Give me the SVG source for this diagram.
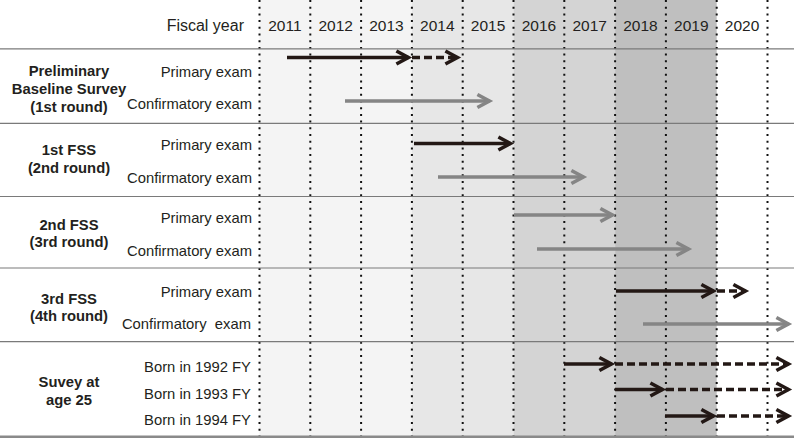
<svg xmlns="http://www.w3.org/2000/svg" width="794" height="438" viewBox="0 0 794 438">
<style>
  text { font-family: "Liberation Sans", Arial, sans-serif; fill: #231f20; }
  .hdr { font-size: 16px; }
  .yr { font-size: 15.5px; text-anchor: middle; }
  .lbl { font-size: 14.8px; text-anchor: end; }
  .grp { font-size: 14.8px; font-weight: bold; text-anchor: middle; }
  .vgrid { stroke: #111; stroke-width: 2; stroke-dasharray: 2 4.7; }
  .hline { stroke: #7a7a7a; stroke-width: 1.2; }
  .blk { stroke: #231815; stroke-width: 3.5; fill: none; marker-end: url(#headB); }
  .gry { stroke: #858585; stroke-width: 3.5; fill: none; marker-end: url(#headG); }
  .dash { stroke-dasharray: 8 4; }
</style>
<defs>
  <marker id="headB" markerUnits="userSpaceOnUse" viewBox="-16 -9 22 18" refX="0" refY="0" markerWidth="22" markerHeight="18" orient="auto" overflow="visible">
    <path d="M-12,-6.5 L0,0 L-12,6.5" fill="none" stroke="#231815" stroke-width="3.6" stroke-dasharray="none"/>
  </marker>
  <marker id="headG" markerUnits="userSpaceOnUse" viewBox="-16 -9 22 18" refX="0" refY="0" markerWidth="22" markerHeight="18" orient="auto" overflow="visible">
    <path d="M-12,-6.5 L0,0 L-12,6.5" fill="none" stroke="#858585" stroke-width="3.6" stroke-dasharray="none"/>
  </marker>
</defs>

<g id="background">
  <rect x="0" y="0" width="794" height="438" fill="#ffffff"/>
  <rect x="259.5" y="0" width="152.4" height="438" fill="#f4f4f4"/>
  <rect x="411.9" y="0" width="101.6" height="438" fill="#e7e7e7"/>
  <rect x="513.5" y="0" width="101.6" height="438" fill="#d4d4d4"/>
  <rect x="615.1" y="0" width="101.6" height="438" fill="#bfbfbf"/>
</g>

<g id="grid">
  <line class="vgrid" x1="259.5" y1="0" x2="259.5" y2="438"/>
  <line class="vgrid" x1="310.3" y1="0" x2="310.3" y2="438"/>
  <line class="vgrid" x1="361.1" y1="0" x2="361.1" y2="438"/>
  <line class="vgrid" x1="411.9" y1="0" x2="411.9" y2="438"/>
  <line class="vgrid" x1="462.7" y1="0" x2="462.7" y2="438"/>
  <line class="vgrid" x1="513.5" y1="0" x2="513.5" y2="438"/>
  <line class="vgrid" x1="564.3" y1="0" x2="564.3" y2="438"/>
  <line class="vgrid" x1="615.1" y1="0" x2="615.1" y2="438"/>
  <line class="vgrid" x1="665.9" y1="0" x2="665.9" y2="438"/>
  <line class="vgrid" x1="716.7" y1="0" x2="716.7" y2="438"/>
  <line class="vgrid" x1="767.5" y1="0" x2="767.5" y2="438"/>
  <line class="hline" x1="0" y1="48.8" x2="794" y2="48.8"/>
  <line class="hline" x1="0" y1="123.3" x2="794" y2="123.3"/>
  <line class="hline" x1="0" y1="196.5" x2="794" y2="196.5"/>
  <line class="hline" x1="0" y1="268" x2="794" y2="268"/>
  <line class="hline" x1="0" y1="341.7" x2="794" y2="341.7"/>
  <line x1="0" y1="436.8" x2="794" y2="436.8" stroke="#8a8a8a" stroke-width="2.4"/>
</g>

<g id="header">
  <text class="hdr" x="244" y="30.5" text-anchor="end">Fiscal year</text>
  <text class="yr" x="284.9" y="30.5">2011</text>
  <text class="yr" x="335.7" y="30.5">2012</text>
  <text class="yr" x="386.5" y="30.5">2013</text>
  <text class="yr" x="437.3" y="30.5">2014</text>
  <text class="yr" x="488.1" y="30.5">2015</text>
  <text class="yr" x="538.9" y="30.5">2016</text>
  <text class="yr" x="589.7" y="30.5">2017</text>
  <text class="yr" x="640.5" y="30.5">2018</text>
  <text class="yr" x="691.3" y="30.5">2019</text>
  <text class="yr" x="742.1" y="30.5">2020</text>
</g>

<g id="pbs">
  <text class="grp" x="69" y="76">Preliminary</text>
  <text class="grp" x="69" y="93.5">Baseline Survey</text>
  <text class="grp" x="69" y="111.5">(1st round)</text>
  <text class="lbl" x="252" y="77">Primary exam</text>
  <text class="lbl" x="252" y="108.5">Confirmatory exam</text>
</g>

<g id="fss1">
  <text class="grp" x="69" y="155">1st FSS</text>
  <text class="grp" x="69" y="173">(2nd round)</text>
  <text class="lbl" x="252" y="149.5">Primary exam</text>
  <text class="lbl" x="252" y="182.5">Confirmatory exam</text>
</g>

<g id="fss2">
  <text class="grp" x="69" y="229.5">2nd FSS</text>
  <text class="grp" x="69" y="247">(3rd round)</text>
  <text class="lbl" x="252" y="223">Primary exam</text>
  <text class="lbl" x="252" y="255.5">Confirmatory exam</text>
</g>

<g id="fss3">
  <text class="grp" x="69" y="303.5">3rd FSS</text>
  <text class="grp" x="69" y="320.5">(4th round)</text>
  <text class="lbl" x="252" y="297">Primary exam</text>
  <text class="lbl" x="251" y="328.5" style="white-space:pre">Confirmatory  exam</text>
</g>

<g id="age25">
  <text class="grp" x="69" y="387">Suvey at</text>
  <text class="grp" x="69" y="404.5">age 25</text>
  <text class="lbl" x="251" y="372">Born in 1992 FY</text>
  <text class="lbl" x="251" y="398.5">Born in 1993 FY</text>
  <text class="lbl" x="251" y="424.5">Born in 1994 FY</text>
</g>

<g id="connectors">
  <path class="blk" d="M287,57.5 H408.4"/>
  <path class="blk dash" d="M412,57.5 H457.4"/>
  <path class="gry" d="M345,101 H489.4"/>
  <path class="blk" d="M414,143.5 H510.4"/>
  <path class="gry" d="M438,177 H583.4"/>
  <path class="gry" d="M514,215 H612.4"/>
  <path class="gry" d="M537,249 H688.4"/>
  <path class="blk" d="M616,291 H713.4"/>
  <path class="blk dash" d="M717,291 H745.4"/>
  <path class="gry" d="M643,324 H788.4"/>
  <path class="blk" d="M564,364 H611.4"/>
  <path class="blk dash" d="M615,364 H788.4"/>
  <path class="blk" d="M615,389.5 H662.4"/>
  <path class="blk dash" d="M666,389.5 H788.4"/>
  <path class="blk" d="M665,416 H713.4"/>
  <path class="blk dash" d="M717,416 H788.4"/>
</g>
</svg>
